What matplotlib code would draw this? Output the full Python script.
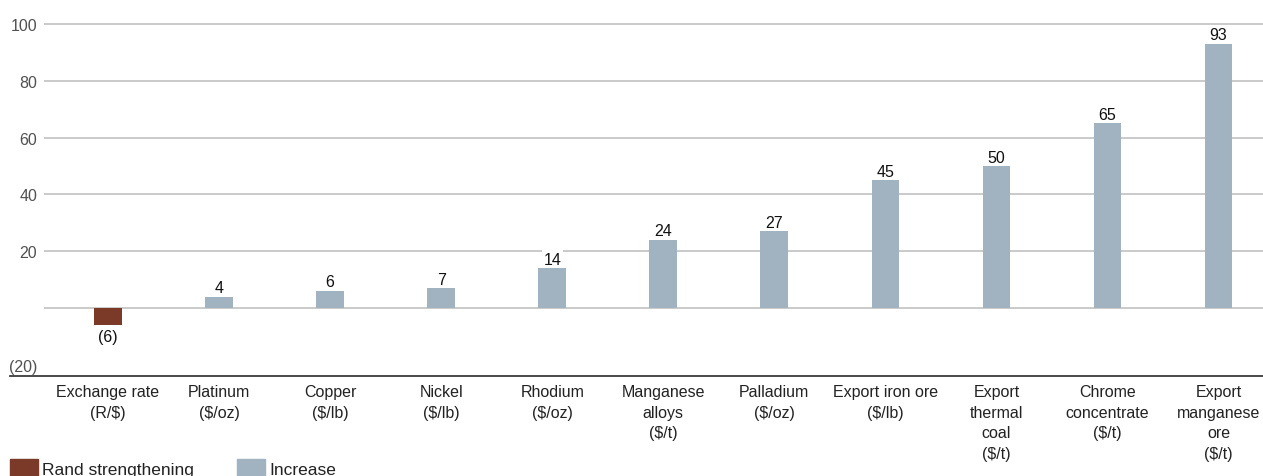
import matplotlib.pyplot as plt
from matplotlib.patches import Rectangle
from matplotlib import font_manager

categories = ["Exchange rate\n(R/$)", "Platinum\n($/oz)", "Copper\n($/lb)", "Nickel\n($/lb)",
              "Rhodium\n($/oz)", "Manganese\nalloys\n($/t)", "Palladium\n($/oz)",
              "Export iron ore\n($/lb)", "Export\nthermal\ncoal\n($/t)",
              "Chrome\nconcentrate\n($/t)", "Export\nmanganese\nore\n($/t)"]
values = [-6, 4, 6, 7, 14, 24, 27, 45, 50, 65, 93]
yticks = [-20, 20, 40, 60, 80, 100]
ytick_labels = ["(20)", "20", "40", "60", "80", "100"]
legend_labels = ["Rand strengthening", "Increase"]

BROWN = "#7a3a27"
BLUE = "#a1b2c0"

names = {f.name for f in font_manager.fontManager.ttflist}
narrow = "Liberation Sans Narrow" if "Liberation Sans Narrow" in names else "Liberation Sans"
plt.rcParams["font.family"] = [narrow, "DejaVu Sans"]

fig = plt.figure(figsize=(12.63, 4.77), dpi=100)
W, H = 1263, 477
# axes box in pixels: left 44, right 1263, top 10, bottom 377
ax = fig.add_axes([44 / W, 1 - 377 / H, (1263 - 44) / W, (377 - 10) / H])

x = list(range(len(values)))
colors = [BROWN if v < 0 else BLUE for v in values]
ax.bar(x, values, width=0.25, color=colors, zorder=3)

for g in [0, 20, 40, 60, 80, 100]:
    ax.axhline(g, color="#c6c6c6", lw=1.3, zorder=1)

# value labels sit between gridlines and bars so the white box only masks gridlines
for xi, v in zip(x, values):
    if v < 0:
        ax.text(xi, v - 1.5, f"({abs(v)})", ha="center", va="top", fontsize=11.5,
                color="#111111", zorder=4)
    else:
        ax.text(xi, v + 0.5, f"{v}", ha="center", va="bottom", fontsize=11.5,
                color="#111111", zorder=2,
                bbox=dict(facecolor="white", edgecolor="none", pad=1.0))

ax.set_xlim(-0.576, 10.4)
ax.set_ylim(-24, 105.3)
ax.set_yticks(yticks)
ax.set_yticklabels(ytick_labels, fontsize=11.5, color="#505050")
ax.set_xticks(x)
ax.set_xticklabels(categories, fontsize=11.5, color="#222222", linespacing=1.45)
ax.tick_params(axis="both", length=0)
ax.tick_params(axis="y", pad=5)
ax.tick_params(axis="x", pad=6)
for s in ax.spines.values():
    s.set_visible(False)

# bottom rule, running out past the tick labels
fig.add_artist(plt.Line2D([10 / W, 1.0], [1 - 377 / H] * 2, color="#3a3a3a", lw=1.3))

# legend along the bottom edge
for px, col, lab in [(10, BROWN, legend_labels[0]), (237, BLUE, legend_labels[1])]:
    fig.add_artist(Rectangle((px / W, 0), 28 / W, 17 / H, color=col,
                             transform=fig.transFigure))
    fig.text((px + 32) / W, 6 / H, lab, fontsize=12.5, color="#222222", va="center")

fig.savefig("out.png", dpi=100)
